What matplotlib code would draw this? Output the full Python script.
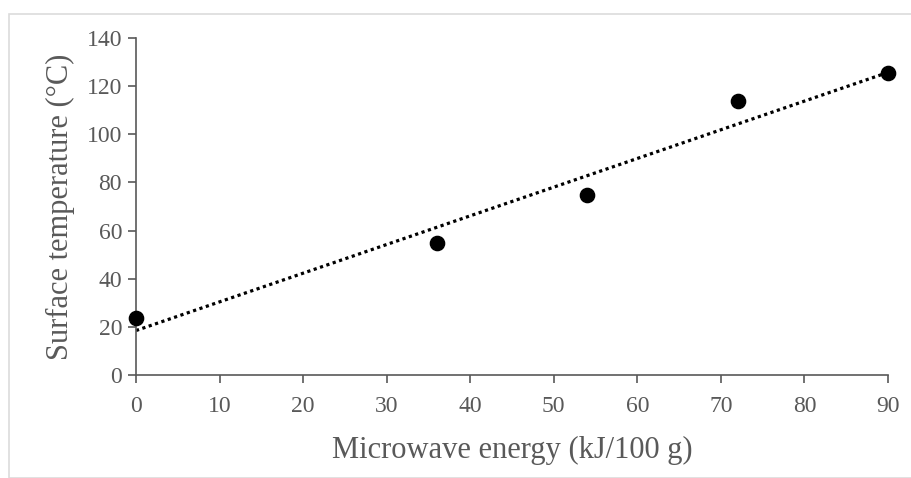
import matplotlib
matplotlib.use("Agg")
import matplotlib.pyplot as plt
from matplotlib.patches import Rectangle
import numpy as np

energy = [0, 36, 54, 72, 90]
temperature = [23.7, 54.8, 74.8, 113.8, 125.5]
x_ticks = [0, 10, 20, 30, 40, 50, 60, 70, 80, 90]
y_ticks = [0, 20, 40, 60, 80, 100, 120, 140]

plt.rcParams['font.family'] = ['Liberation Serif', 'DejaVu Serif']
gray = '#595959'

fig = plt.figure(figsize=(9.12, 4.78), dpi=100)
fig.patches.append(Rectangle((9.5/912, 0), 1.0, 1 - 13.5/478, transform=fig.transFigure,
                             fill=False, edgecolor='#dcdcdc', linewidth=1.2))
ax = fig.add_axes([136/912, 1 - 375/478, (888 - 136)/912, (375 - 38)/478])

slope, intercept = np.polyfit(energy, temperature, 1)
xs = np.array([0, 90])
ax.plot(xs, slope * xs + intercept, linestyle=(0, (1, 1.1)), color='black', linewidth=2.3, clip_on=False)
ax.scatter(energy, temperature, s=105, color='black', zorder=3, clip_on=False)

ax.set_xlim(0, 90)
ax.set_ylim(0, 140)
ax.set_xticks(x_ticks)
ax.set_yticks(y_ticks)
for s in ['top', 'right']:
    ax.spines[s].set_visible(False)
for s in ['left', 'bottom']:
    ax.spines[s].set_color(gray)
    ax.spines[s].set_linewidth(1.2)
ax.tick_params(axis='both', colors=gray, labelcolor=gray, labelsize=17, length=6, width=1.2, pad=4)
ax.tick_params(axis='x', pad=9)
ax.set_xlabel('Microwave energy (kJ/100 g)', fontsize=22, color=gray, labelpad=14)
ax.set_ylabel('Surface temperature (°C)', fontsize=22, color=gray, labelpad=8)

fig.savefig('out.png', dpi=100, facecolor='white')
